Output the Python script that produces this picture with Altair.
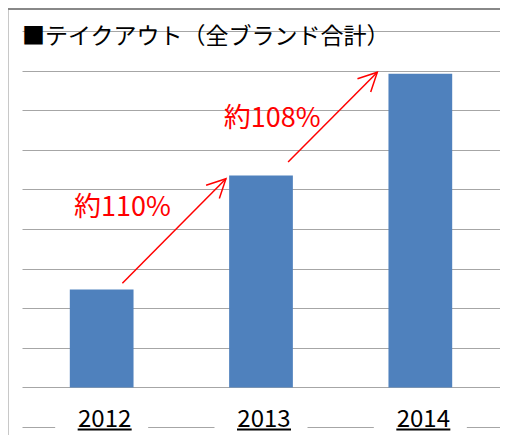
import altair as alt
import pandas as pd

# ---- data (y in gridline units, baseline = 0) ----
years = ["2012", "2013", "2014"]
values = [2.47, 5.35, 7.92]
grid_ticks = [-1, 0, 1, 2, 3, 4, 5, 6, 7, 8, 9]

growth_labels = ["約110%", "約108%"]
label_x = [0.63, 1.57]
label_y = [4.52, 6.79]
arrow_x_start = [0.63, 1.67]
arrow_y_start = [2.63, 5.69]
arrow_x_end = [1.28, 2.23]
arrow_y_end = [5.27, 7.96]

title_text = "■テイクアウト（全ブランド合計）"

JP = "Noto Sans CJK JP"

bars_df = pd.DataFrame({"year": years, "value": values, "lab": [-1.0] * 3})
ann_df = pd.DataFrame({
    "label": growth_labels, "lx": label_x, "ly": label_y,
    "x0": arrow_x_start, "y0": arrow_y_start,
    "x1": arrow_x_end, "y1": arrow_y_end,
})
one = pd.DataFrame({"k": [0]})

yscale = alt.Scale(domain=[-1, 9], nice=False, zero=False)
yaxis = alt.Axis(values=grid_ticks, labels=False, ticks=False, domain=False,
                 grid=True, gridColor="#a6a6a6", gridWidth=1, title=None)
xband = alt.Scale(domain=years, paddingInner=0.6, paddingOuter=0.3)
xq = alt.Scale(domain=[0, 3], nice=False, zero=False)


def Y(field):
    return alt.Y(field, scale=yscale, axis=yaxis)


bars = alt.Chart(bars_df).mark_bar(color="#4F81BD").encode(
    x=alt.X("year:N", scale=xband, axis=None),
    y=Y("value:Q"),
    y2=alt.datum(0),
)

gap = alt.Chart(bars_df).mark_tick(color="white", size=93, thickness=4, opacity=1).encode(
    x=alt.X("year:N", scale=xband, axis=None),
    y=Y("lab:Q"),
)

year_text = alt.Chart(bars_df).mark_text(
    font=JP, fontSize=24, color="black", baseline="alphabetic", align="center", dx=3
).encode(
    x=alt.X("year:N", scale=xband, axis=None),
    y=Y("lab:Q"),
    text="year:N",
)

underline = alt.Chart(bars_df).mark_tick(color="black", size=54, thickness=2, opacity=1,
                                         yOffset=2.5, xOffset=3).encode(
    x=alt.X("year:N", scale=xband, axis=None),
    y=Y("lab:Q"),
)

arrows = alt.Chart(ann_df).mark_rule(color="#ff0000", strokeWidth=1.5).encode(
    x=alt.X("x0:Q", scale=xq, axis=None),
    x2="x1:Q",
    y=Y("y0:Q"),
    y2="y1:Q",
)

heads = alt.Chart(ann_df).mark_point(
    shape="M -0.5 1 L 0 0 L 0.5 1", filled=False, color="#ff0000",
    strokeWidth=1.5, size=1400, angle=45, opacity=1,
).encode(
    x=alt.X("x1:Q", scale=xq, axis=None),
    y=Y("y1:Q"),
)

ann_text = alt.Chart(ann_df).mark_text(
    font=JP, fontSize=27, color="#ff0000", align="center", baseline="middle"
).encode(
    x=alt.X("lx:Q", scale=xq, axis=None),
    y=Y("ly:Q"),
    text="label:N",
)

title = alt.Chart(one).mark_text(
    font=JP, fontSize=23, color="black", align="left", baseline="middle", text=title_text
).encode(x=alt.value(0), y=alt.value(5.5))

top_border = alt.Chart(one).mark_rule(color="#888888", strokeWidth=2).encode(
    x=alt.value(-14), x2=alt.value(488), y=alt.value(-22)
)
left_border = alt.Chart(one).mark_rule(color="#c8c8c8", strokeWidth=1).encode(
    x=alt.value(-13.5), y=alt.value(-21), y2=alt.value(420)
)

chart = alt.layer(
    bars, gap, year_text, underline, arrows, heads, ann_text, title, top_border, left_border
).resolve_scale(x="independent").properties(
    width=478, height=396,
    autosize=alt.AutoSizeParams(type="none"),
    padding={"left": 14, "top": 23, "right": 0, "bottom": 8},
).configure_view(stroke=None)

chart.save("out.html", embed_options={"renderer": "svg", "actions": False})
